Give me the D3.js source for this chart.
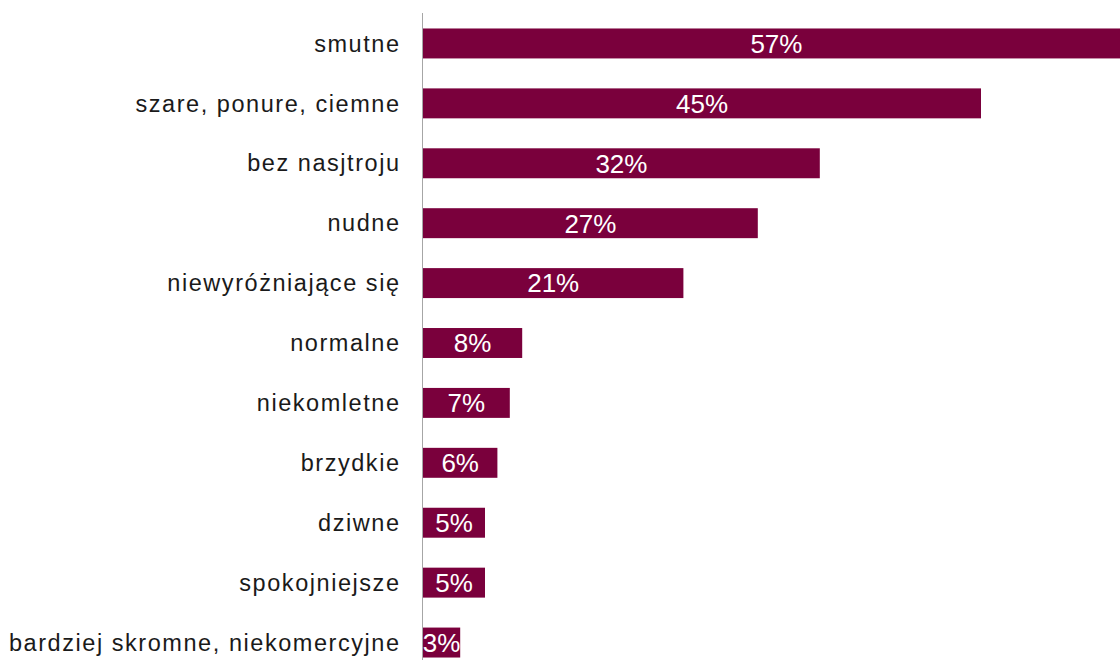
<!DOCTYPE html>
<html>
<head>
<meta charset="utf-8">
<script src="https://cdn.jsdelivr.net/npm/d3@7"></script>
<style>
body { margin: 0; background: #fff; }
svg { display: block; }
</style>
</head>
<body>
<svg width="1120" height="660"></svg>
<script>
var categories = ["smutne", "szare, ponure, ciemne", "bez nasjtroju", "nudne",
  "niewyróżniające się", "normalne", "niekomletne", "brzydkie", "dziwne",
  "spokojniejsze", "bardziej skromne, niekomercyjne"];
var values = [57, 45, 32, 27, 21, 8, 7, 6, 5, 5, 3];

var svg = d3.select("svg"),
width = +svg.attr("width"),
height = +svg.attr("height");

var x0 = 423;

var x = d3.scaleLinear()
  .domain([0, 57])
  .range([x0, x0 + 57 * 12.4]);

var y = d3.scaleBand()
  .domain(categories)
  .range([13.5, 672.5])
  .paddingInner(0.5)
  .paddingOuter(0.25);

var bars = svg.append("g")
  .selectAll("rect")
  .data(values)
  .enter().append("rect")
  .attr("x", x(0))
  .attr("y", function(d, i) { return y(categories[i]); })
  .attr("width", function(d) { return x(d) - x(0); })
  .attr("height", y.bandwidth())
  .attr("fill", "#7a003c");

// labels on the left
svg.append("g")
  .selectAll("text")
  .data(categories)
  .enter().append("text")
  .attr("x", 399 + 1.55)
  .attr("y", function(d) { return y(d) + y.bandwidth() / 2; })
  .attr("dy", "0.35em")
  .attr("text-anchor", "end")
  .style("font-family", "Liberation Sans, Arial, sans-serif")
  .style("font-size", "23.5px")
  .style("letter-spacing", "1.55px")
  .style("fill", "#1a1a1a")
  .text(function(d) { return d; });

// values inside bars
svg.append("g")
  .selectAll("text")
  .data(values)
  .enter().append("text")
  .attr("x", function(d) { return (x(0) + x(d)) / 2; })
  .attr("y", function(d, i) { return y(categories[i]) + y.bandwidth() / 2; })
  .attr("dy", "0.36em")
  .attr("text-anchor", "middle")
  .style("font-family", "Liberation Sans, Arial, sans-serif")
  .style("font-size", "26px")
  .style("fill", "#fff")
  .text(function(d) { return d + "%"; });

// vertical axis line
svg.append("line")
  .attr("x1", x0 - 0.5)
  .attr("x2", x0 - 0.5)
  .attr("y1", 13)
  .attr("y2", height)
  .attr("stroke", "#a6a6a6")
  .attr("stroke-width", 1);
</script>
</body>
</html>
